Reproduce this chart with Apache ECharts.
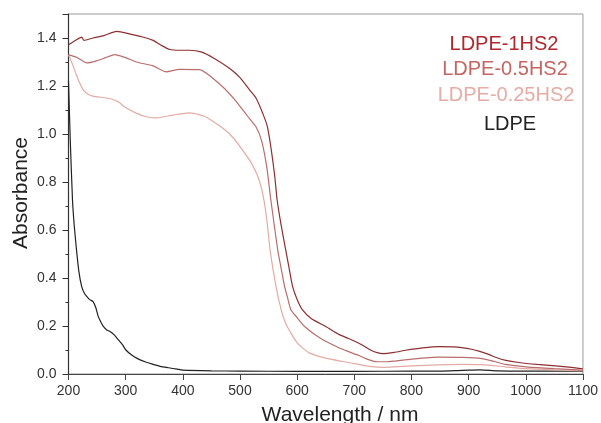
<!DOCTYPE html>
<html>
<head>
<meta charset="utf-8">
<script src="https://cdn.jsdelivr.net/npm/echarts@6/dist/echarts.min.js"></script>
<style>html,body{margin:0;padding:0;background:#fff;}#c{width:601px;height:423px;}</style>
</head>
<body>
<div id="c"></div>
<script>
var seriesNames = ['LDPE-1HS2', 'LDPE-0.5HS2', 'LDPE-0.25HS2', 'LDPE'];
var lineColors = ['#8e2f31', '#b96e6c', '#e3aba3', '#222222'];
var textColors = ['#b0282e', '#c56561', '#e6aca5', '#222222'];

var wl1 = [200,212,223,227,243,262,284,310,336,348,362,377,394,412,432,455,482,500,517,528,540,548,555,561,565,572,580,586,592,600,609,625,650,673,690,708,720,730,740,750,770,790,820,848,880,905,918,935,947,965,988,1020,1052,1080,1100];
var a1  = [1.372,1.39,1.404,1.39,1.40,1.41,1.428,1.415,1.40,1.39,1.37,1.352,1.349,1.349,1.342,1.315,1.273,1.235,1.183,1.15,1.085,1.03,0.93,0.82,0.725,0.62,0.517,0.44,0.365,0.31,0.268,0.23,0.198,0.165,0.148,0.128,0.112,0.098,0.089,0.085,0.09,0.099,0.109,0.114,0.112,0.103,0.095,0.082,0.07,0.057,0.048,0.04,0.034,0.028,0.022];

var wl2 = [200,214,232,249,265,281,300,319,348,371,394,429,470,490,513,528,538,547,554,566,572,578,583,589,600,613,640,674,690,708,720,730,740,755,770,800,848,890,923,945,964,1000,1050,1100];
var a2  = [1.33,1.32,1.296,1.305,1.318,1.331,1.318,1.30,1.284,1.259,1.269,1.268,1.196,1.145,1.075,1.03,0.97,0.86,0.725,0.517,0.44,0.365,0.32,0.268,0.235,0.198,0.15,0.108,0.093,0.077,0.064,0.056,0.051,0.051,0.054,0.062,0.07,0.069,0.064,0.052,0.04,0.03,0.022,0.016];

var wl3 = [200,207,214,220,226,235,243,260,272,287,300,319,336,354,383,412,441,482,517,530,537,543,548,553,563,572,580,589,600,621,650,680,708,730,750,770,800,848,890,923,964,1000,1050,1100];
var a3  = [1.33,1.29,1.245,1.21,1.183,1.165,1.158,1.152,1.148,1.134,1.11,1.086,1.072,1.067,1.079,1.088,1.07,1.0,0.89,0.83,0.78,0.71,0.62,0.51,0.365,0.268,0.21,0.171,0.13,0.088,0.066,0.052,0.04,0.031,0.028,0.03,0.034,0.038,0.04,0.039,0.03,0.022,0.017,0.014];

var wl4 = [200,203,207,210,214,218,223,228,232,237,243,248,252,257,261,267,272,280,287,295,300,310,320,335,348,362,375,390,400,450,500,600,700,800,850,880,900,920,950,1000,1100];
var a4  = [1.22,0.98,0.725,0.62,0.517,0.43,0.365,0.335,0.323,0.31,0.302,0.275,0.24,0.215,0.198,0.183,0.178,0.163,0.143,0.12,0.101,0.08,0.065,0.05,0.04,0.031,0.026,0.02,0.016,0.013,0.012,0.011,0.011,0.012,0.012,0.014,0.016,0.017,0.013,0.012,0.012];

var xTitle = 'Wavelength / nm';
var yTitle = 'Absorbance';

var wls = [wl1, wl2, wl3, wl4];
var abs = [a1, a2, a3, a4];
var legendY = [44, 69, 95, 124];
var legendX = [504, 505, 506, 510];

function pairs(w, a) { return w.map(function (v, i) { return [v, a[i]]; }); }

var series = seriesNames.map(function (n, k) {
  return {
    name: n, type: 'line', data: pairs(wls[k], abs[k]), showSymbol: false,
    smooth: 0.2,
    lineStyle: { color: lineColors[k], width: 1.2 }, z: 10 - k
  };
});

var graphics = seriesNames.map(function (n, k) {
  return {
    type: 'text', x: legendX[k], y: legendY[k],
    style: { text: n, fill: textColors[k], font: '20px "Liberation Sans", Arial, sans-serif', textAlign: 'center', textVerticalAlign: 'middle' }
  };
});
graphics.push({ type: 'text', x: 340, y: 415, style: { text: xTitle, fill: '#222', font: '21px "Liberation Sans", Arial, sans-serif', textAlign: 'center', textVerticalAlign: 'middle' } });
graphics.push({ type: 'text', x: 21, y: 193, rotation: Math.PI / 2, style: { text: yTitle, fill: '#222', font: '21px "Liberation Sans", Arial, sans-serif', textAlign: 'center', textVerticalAlign: 'middle' } });

var chart = echarts.init(document.getElementById('c'), null, { renderer: 'canvas' });
chart.setOption({
  animation: false,
  backgroundColor: '#fff',
  grid: { left: 68.5, right: 17, top: 14, bottom: 49, show: true, borderColor: '#999', borderWidth: 1 },
  xAxis: {
    type: 'value', min: 200, max: 1100, interval: 100,
    axisLine: { show: true, lineStyle: { color: '#444', width: 1 } },
    axisTick: { show: true, length: 6, lineStyle: { color: '#444' } },
    axisLabel: { color: '#333', fontSize: 14, margin: 10, fontFamily: 'Liberation Sans', formatter: function (v) { return String(v); } },
    splitLine: { show: false }
  },
  yAxis: {
    type: 'value', min: 0, max: 1.5, interval: 0.2,
    axisLine: { show: true, lineStyle: { color: '#333', width: 1.2 } },
    axisTick: { show: true, length: 6, lineStyle: { color: '#333' } },
    minorTick: { show: true, splitNumber: 2, length: 3, lineStyle: { color: '#333' } },
    axisLabel: { color: '#333', fontSize: 14, margin: 12, fontFamily: 'Liberation Sans', showMaxLabel: false, formatter: function (v) { return v.toFixed(1); } },
    splitLine: { show: false }
  },
  series: series,
  graphic: graphics
});
</script>
</body>
</html>
